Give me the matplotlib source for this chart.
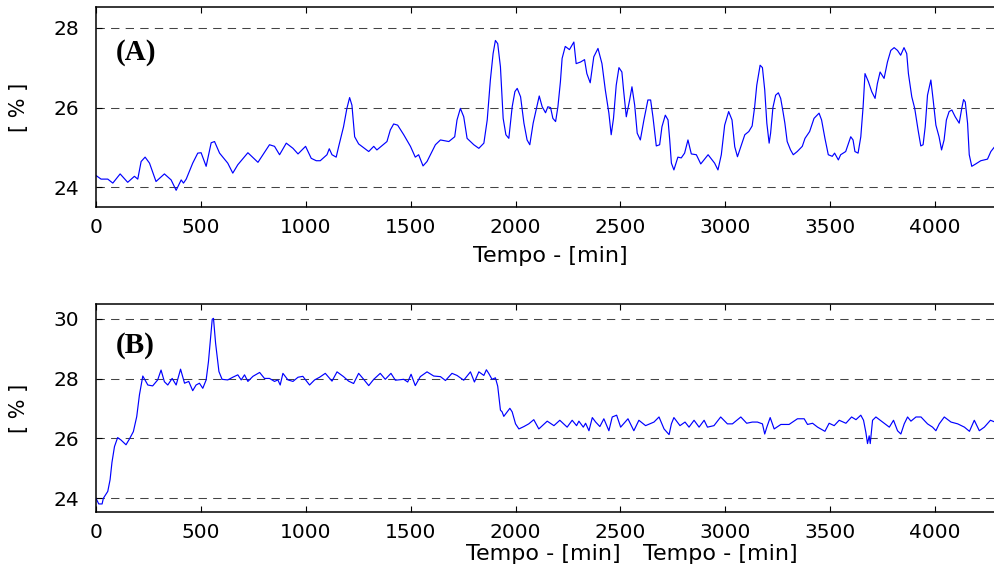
import matplotlib
matplotlib.use("Agg")
import matplotlib.pyplot as plt
import numpy as np

# ---- data ----
top_t = [0, 24, 56, 80, 115, 151, 183, 199, 215, 234, 255, 286, 326, 358, 382, 406, 417, 430, 461, 485,
         501, 525, 549, 565, 589, 628, 652, 676, 724, 772, 796, 827, 851, 875, 907, 939, 963, 999, 1026, 1050,
         1069, 1101, 1112, 1125, 1145, 1157, 1180, 1196, 1209, 1220, 1233, 1252, 1300, 1324, 1339, 1387, 1403, 1419, 1438, 1467,
         1499, 1522, 1538, 1559, 1578, 1602, 1618, 1642, 1682, 1710, 1721, 1737, 1753, 1769, 1801, 1825, 1849, 1865, 1880, 1893,
         1904, 1915, 1928, 1941, 1954, 1968, 1984, 1997, 2008, 2024, 2040, 2055, 2068, 2084, 2100, 2113, 2127, 2143, 2154, 2167,
         2178, 2191, 2202, 2214, 2222, 2237, 2257, 2278, 2289, 2310, 2329, 2340, 2356, 2373, 2393, 2412, 2428, 2445, 2456, 2467,
         2480, 2493, 2507, 2515, 2528, 2544, 2555, 2568, 2580, 2595, 2612, 2631, 2644, 2655, 2671, 2687, 2698, 2714, 2727, 2735,
         2743, 2755, 2774, 2790, 2806, 2822, 2838, 2862, 2883, 2918, 2949, 2965, 2981, 2997, 3016, 3032, 3045, 3058, 3077, 3093,
         3112, 3128, 3140, 3150, 3166, 3177, 3188, 3198, 3209, 3216, 3227, 3240, 3253, 3264, 3275, 3284, 3295, 3311, 3324, 3343,
         3367, 3380, 3402, 3423, 3447, 3459, 3475, 3491, 3510, 3521, 3539, 3550, 3574, 3585, 3598, 3609, 3618, 3633, 3646, 3657,
         3666, 3682, 3698, 3714, 3725, 3738, 3757, 3773, 3789, 3805, 3821, 3836, 3852, 3865, 3873, 3889, 3903, 3919, 3932, 3943,
         3953, 3964, 3980, 3991, 4004, 4019, 4031, 4043, 4054, 4067, 4080, 4096, 4115, 4128, 4136, 4144, 4155, 4163, 4175, 4194,
         4218, 4250, 4266, 4287]
top_v = [24.30, 24.21, 24.21, 24.11, 24.34, 24.13, 24.28, 24.21, 24.65, 24.76, 24.61, 24.15, 24.34, 24.19, 23.93, 24.19, 24.11, 24.21, 24.61, 24.86,
         24.87, 24.53, 25.12, 25.15, 24.86, 24.61, 24.36, 24.57, 24.87, 24.63, 24.82, 25.07, 25.03, 24.82, 25.11, 24.98, 24.84, 25.03, 24.73, 24.67,
         24.67, 24.82, 24.97, 24.82, 24.76, 25.03, 25.52, 25.98, 26.25, 26.06, 25.27, 25.09, 24.90, 25.03, 24.94, 25.15, 25.44, 25.59, 25.56, 25.32,
         25.03, 24.76, 24.82, 24.54, 24.65, 24.90, 25.07, 25.19, 25.15, 25.27, 25.69, 25.98, 25.77, 25.23, 25.07, 24.98, 25.11, 25.69, 26.69, 27.35,
         27.68, 27.60, 27.02, 25.73, 25.32, 25.23, 26.02, 26.40, 26.48, 26.27, 25.61, 25.19, 25.07, 25.61, 25.98, 26.29, 26.02, 25.87, 26.02, 26.00,
         25.73, 25.65, 26.02, 26.65, 27.23, 27.53, 27.45, 27.64, 27.10, 27.14, 27.20, 26.85, 26.62, 27.27, 27.48, 27.10, 26.44, 25.86, 25.32, 25.73,
         26.56, 27.00, 26.89, 26.44, 25.77, 26.19, 26.52, 26.06, 25.36, 25.19, 25.69, 26.19, 26.19, 25.77, 25.04, 25.07, 25.52, 25.81, 25.69, 25.19,
         24.61, 24.44, 24.76, 24.74, 24.86, 25.19, 24.84, 24.82, 24.59, 24.82, 24.61, 24.44, 24.82, 25.56, 25.90, 25.69, 25.02, 24.77, 25.07, 25.32,
         25.40, 25.54, 26.02, 26.56, 27.06, 27.00, 26.44, 25.61, 25.11, 25.36, 26.00, 26.31, 26.37, 26.23, 25.90, 25.61, 25.15, 24.94, 24.82, 24.90,
         25.03, 25.23, 25.40, 25.73, 25.86, 25.69, 25.23, 24.82, 24.78, 24.86, 24.69, 24.82, 24.90, 25.07, 25.27, 25.19, 24.90, 24.86, 25.27, 26.02,
         26.85, 26.65, 26.40, 26.23, 26.60, 26.89, 26.73, 27.14, 27.43, 27.50, 27.43, 27.31, 27.50, 27.35, 26.85, 26.27, 25.98, 25.44, 25.04, 25.07,
         25.52, 26.31, 26.69, 26.19, 25.56, 25.27, 24.94, 25.19, 25.69, 25.90, 25.94, 25.77, 25.61, 26.00, 26.20, 26.14, 25.61, 24.82, 24.53, 24.59,
         24.67, 24.71, 24.90, 25.04]

bot_t = [0, 13, 29, 35, 56, 67, 76, 88, 103, 119, 143, 159, 178, 194, 207, 223, 247, 270, 294, 310,
         326, 342, 363, 382, 403, 422, 442, 461, 477, 493, 509, 525, 536, 546, 554, 560, 570, 586, 601, 628,
         652, 676, 692, 708, 724, 748, 780, 803, 827, 851, 867, 878, 891, 915, 939, 963, 986, 1018, 1042, 1066,
         1093, 1125, 1149, 1180, 1204, 1228, 1252, 1276, 1300, 1324, 1355, 1379, 1406, 1427, 1467, 1486, 1502, 1522, 1546, 1578,
         1610, 1642, 1666, 1697, 1721, 1753, 1785, 1804, 1825, 1849, 1861, 1872, 1888, 1904, 1915, 1928, 1936, 1944, 1960, 1973,
         1984, 2000, 2016, 2040, 2063, 2087, 2111, 2151, 2183, 2211, 2246, 2270, 2291, 2302, 2323, 2334, 2350, 2366, 2382, 2402,
         2421, 2445, 2461, 2482, 2501, 2536, 2564, 2588, 2620, 2660, 2684, 2708, 2732, 2743, 2755, 2784, 2808, 2827, 2851, 2875,
         2899, 2915, 2946, 2978, 3010, 3034, 3074, 3102, 3129, 3153, 3177, 3188, 3198, 3214, 3233, 3265, 3304, 3344, 3376, 3392,
         3416, 3440, 3475, 3495, 3519, 3543, 3575, 3602, 3623, 3646, 3659, 3670, 3678, 3686, 3691, 3702, 3718, 3750, 3782, 3802,
         3821, 3837, 3853, 3869, 3885, 3909, 3933, 3964, 3988, 4004, 4020, 4044, 4076, 4108, 4140, 4164, 4187, 4211, 4235, 4264,
         4286]
bot_v = [24.00, 23.81, 23.81, 24.00, 24.23, 24.62, 25.20, 25.73, 26.03, 25.95, 25.79, 25.98, 26.23, 26.73, 27.46, 28.09, 27.79, 27.76, 27.96, 28.29,
         27.90, 27.79, 28.01, 27.79, 28.32, 27.85, 27.91, 27.60, 27.79, 27.85, 27.68, 27.96, 28.57, 29.35, 29.99, 30.02, 29.19, 28.24, 27.98, 27.96,
         28.05, 28.13, 27.96, 28.13, 27.91, 28.08, 28.21, 28.01, 28.01, 27.91, 27.96, 27.79, 28.18, 27.96, 27.91, 28.05, 28.08, 27.79, 27.96, 28.05,
         28.18, 27.92, 28.23, 28.07, 27.92, 27.84, 28.18, 27.98, 27.77, 27.98, 28.18, 27.98, 28.18, 27.95, 27.98, 27.89, 28.15, 27.77, 28.07, 28.23,
         28.09, 28.07, 27.94, 28.18, 28.11, 27.95, 28.23, 27.89, 28.23, 28.11, 28.30, 28.18, 27.98, 28.03, 27.75, 26.95, 26.89, 26.74, 26.89, 27.01,
         26.89, 26.49, 26.32, 26.40, 26.49, 26.63, 26.32, 26.58, 26.43, 26.61, 26.38, 26.61, 26.43, 26.58, 26.38, 26.51, 26.26, 26.70, 26.55, 26.40,
         26.66, 26.26, 26.72, 26.78, 26.38, 26.66, 26.26, 26.61, 26.43, 26.55, 26.72, 26.32, 26.13, 26.49, 26.70, 26.43, 26.55, 26.38, 26.61, 26.38,
         26.61, 26.38, 26.43, 26.72, 26.49, 26.49, 26.72, 26.51, 26.55, 26.55, 26.49, 26.15, 26.38, 26.70, 26.32, 26.47, 26.47, 26.66, 26.66, 26.47,
         26.51, 26.38, 26.24, 26.51, 26.43, 26.61, 26.51, 26.72, 26.63, 26.78, 26.61, 26.21, 25.83, 26.09, 25.83, 26.61, 26.72, 26.55, 26.38, 26.61,
         26.26, 26.15, 26.49, 26.72, 26.58, 26.72, 26.72, 26.49, 26.38, 26.26, 26.49, 26.72, 26.55, 26.49, 26.38, 26.24, 26.61, 26.26, 26.38, 26.61,
         26.55]

assert len(top_t) == len(top_v), (len(top_t), len(top_v))
assert len(bot_t) == len(bot_v), (len(bot_t), len(bot_v))

xticks = [0, 500, 1000, 1500, 2000, 2500, 3000, 3500, 4000]
top_yticks = [24, 26, 28]
bot_yticks = [24, 26, 28, 30]
xlabel = 'Tempo - [min]'

plt.rcParams['font.family'] = 'DejaVu Sans'

fig = plt.figure(figsize=(9.94, 5.77), dpi=100)
ax1 = fig.add_axes([0.0966, 0.6418, 0.9034, 0.3456])
ax2 = fig.add_axes([0.0966, 0.1121, 0.9034, 0.3605])


def style(ax, yticks, ylim):
    ax.set_xlim(0, 4281)
    ax.set_ylim(*ylim)
    ax.set_xticks(xticks)
    ax.set_yticks(yticks)
    for y in yticks:
        ax.axhline(y, color='#444444', lw=0.75, dashes=(8, 6), zorder=1)
    ax.spines['right'].set_visible(False)
    for s in ['left', 'top', 'bottom']:
        ax.spines[s].set_linewidth(1.1)
    ax.tick_params(axis='x', direction='in', top=True, length=4, width=0.8,
                   labelsize=14.5, pad=8)
    ax.tick_params(axis='y', direction='in', length=4, width=0.8,
                   labelsize=14.5, pad=12)
    ax.set_ylabel('[ % ]', fontsize=15, labelpad=18)


ax1.plot(top_t, top_v, color='#0000ff', lw=0.85, zorder=2)
style(ax1, top_yticks, (23.52, 28.51))
ax1.text(0.022, 0.775, '(A)', transform=ax1.transAxes, fontsize=21,
         fontweight='bold', family='Liberation Serif', va='center', ha='left')

ax2.plot(bot_t, bot_v, color='#0000ff', lw=0.85, zorder=2)
style(ax2, bot_yticks, (23.53, 30.49))
ax2.text(0.022, 0.80, '(B)', transform=ax2.transAxes, fontsize=21,
         fontweight='bold', family='Liberation Serif', va='center', ha='left')

# axis titles placed as in the source figure (the lower one appears twice, side by side)
fig.text(550 / 994, 1 - 256 / 577, xlabel, fontsize=16, ha='center', va='center')
fig.text(543 / 994, 1 - 554 / 577, xlabel, fontsize=16, ha='center', va='center')
fig.text(720 / 994, 1 - 554 / 577, xlabel, fontsize=16, ha='center', va='center')

fig.savefig('out.png', dpi=100)
